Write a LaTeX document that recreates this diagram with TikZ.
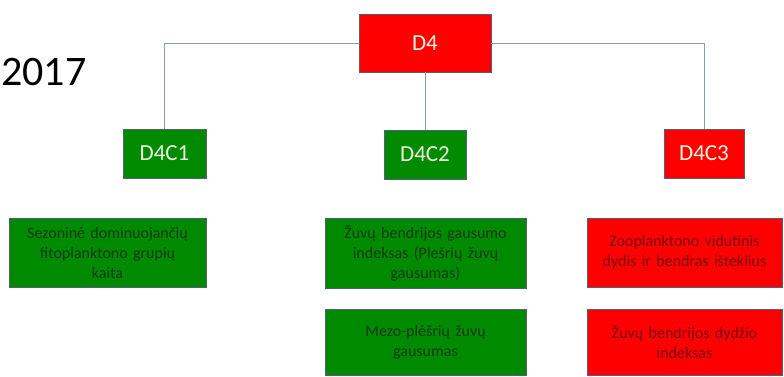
\documentclass[tikz,border=0pt]{standalone}
\usepackage{fontspec}
\setmainfont{Carlito}
\definecolor{boxgreen}{RGB}{0,138,0}
\definecolor{boxred}{RGB}{255,0,0}
\definecolor{boxedge}{RGB}{80,96,120}
\definecolor{linkline}{RGB}{140,158,182}
\definecolor{lighttext}{RGB}{236,246,222}
\definecolor{darkgreen}{RGB}{12,60,12}
\definecolor{darkred}{RGB}{120,0,0}
\tikzset{
  head/.style={draw=boxedge, line width=0.8pt, inner sep=0pt,
    text=lighttext, font=\fontsize{23}{26}\selectfont},
  leaf/.style={draw=boxedge, line width=0.8pt, inner sep=0pt, align=center,
    font=\fontsize{16}{20}\selectfont},
  link/.style={draw=linkline, line width=0.9pt}
}
\begin{document}
\begin{tikzpicture}[x=1pt, y=-1pt]
  \useasboundingbox (0,0) rectangle (784,376);

  % year
  \node[anchor=west, inner sep=0pt, font=\fontsize{42}{46}\selectfont] (year) at (1,72) {2017};

  % top and criteria
  \node[head, fill=boxred, minimum width=132pt, minimum height=58pt] (d4) at (425,43) {D4};
  \node[head, fill=boxgreen, minimum width=83pt, minimum height=49pt] (c1) at (164.5,153.5) {D4C1};
  \node[head, fill=boxgreen, minimum width=82pt, minimum height=49pt] (c2) at (425,154.5) {D4C2};
  \node[head, fill=boxred, minimum width=80pt, minimum height=49pt] (c3) at (704,153.5) {D4C3};

  % connectors
  \draw[link] (d4.west) -| (c1.north);
  \draw[link] (d4.east) -| (c3.north);
  \draw[link] (d4) -- (c2);

  % indicators
  \node[leaf, fill=boxgreen, text=darkgreen, minimum width=197pt, minimum height=69pt, text width=185pt]
    (b1) at (107.5,252.5) {Sezoninė dominuojančių\\fitoplanktono grupių\\kaita};
  \node[leaf, fill=boxgreen, text=darkgreen, minimum width=201pt, minimum height=70pt, text width=190pt]
    (b2) at (425.5,253) {Žuvų bendrijos gausumo\\indeksas (Plešrių žuvų\\gausumas)};
  \node[leaf, fill=boxgreen, text=darkgreen, minimum width=201pt, minimum height=66pt, text width=190pt]
    (b3) at (425.5,342) {Mezo-plėšrių žuvų\\gausumas};
  \node[leaf, fill=boxred, text=darkred, minimum width=195pt, minimum height=69pt, text width=185pt]
    (b4) at (684.5,252.5) {Zooplanktono vidutinis\\dydis ir bendras išteklius};
  \node[leaf, fill=boxred, text=darkred, minimum width=195pt, minimum height=66pt, text width=185pt]
    (b5) at (684.5,342) {Žuvų bendrijos dydžio\\indeksas};
\end{tikzpicture}
\end{document}
